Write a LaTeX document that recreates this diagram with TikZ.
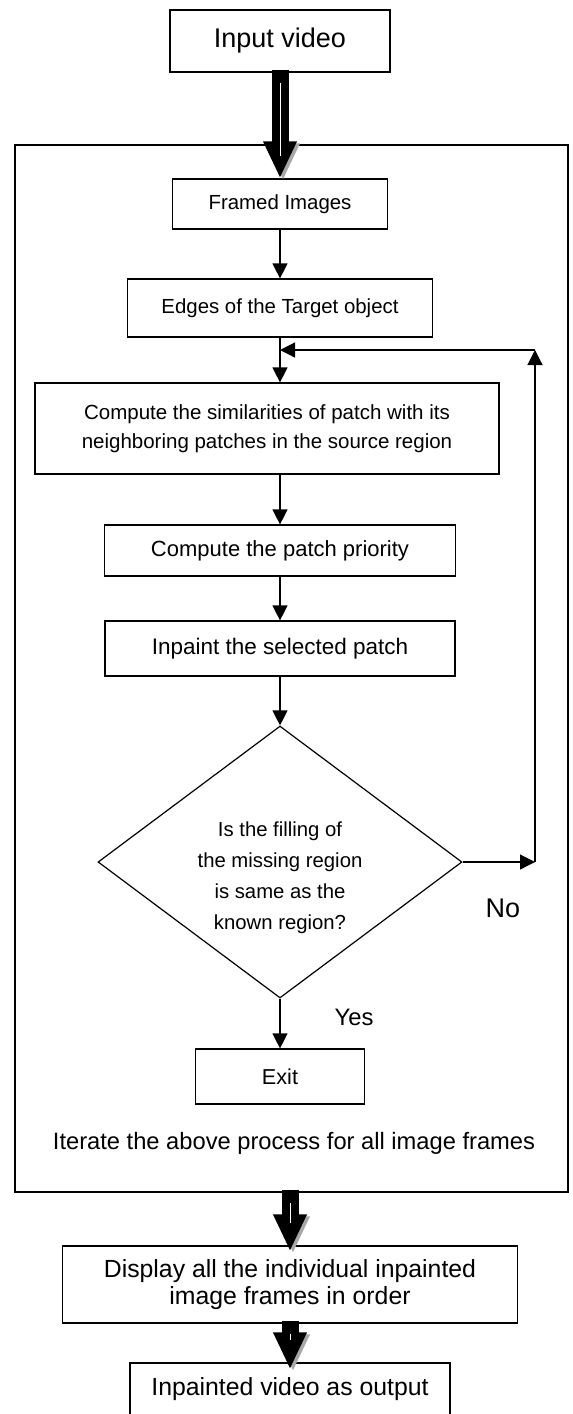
\documentclass[tikz,border=0pt]{standalone}
\usepackage{fontspec}
\setmainfont{Liberation Sans}
\usepackage{tikz}
\usetikzlibrary{calc,arrows.meta,shapes.geometric,positioning}
\definecolor{ink}{HTML}{000000}
\definecolor{paper}{HTML}{FFFFFF}
\definecolor{shade}{HTML}{A8A8A8}
\tikzset{
  stepbox/.style={rectangle, draw=ink, line width=1.2pt, inner sep=0pt, align=center, text=ink},
  outer/.style={rectangle, draw=ink, line width=1.3pt, inner sep=0pt},
  test/.style={diamond, draw=ink, line width=1.2pt, inner sep=0pt},
  lab/.style 2 args={text=ink, font=\fontsize{#1}{#2}\selectfont},
  flow/.style={draw=ink, line width=1.2pt, -{Triangle[width=15pt,length=15pt]}},
  big/.style={draw=ink, line width=17pt, -{Triangle[width=31pt,length=37pt]}, shorten <=-3pt,
    preaction={draw=shade, transform canvas={shift={(3pt,-2pt)}}},
    postaction={draw=paper, line width=0.7pt, -, shorten <=10pt, shorten >=22pt}},
}

\begin{document}
\begin{tikzpicture}[x=1pt,y=-1pt]
\useasboundingbox (0,0) rectangle (573,1414);
\fill[paper] (0,0) rectangle (573,1414);

% the loop that runs once per frame
\node[outer, minimum width=553pt, minimum height=1047pt] (frame) at (291.5,668.5) {};

\node[stepbox, lab={27}{32}, minimum width=220pt, minimum height=62pt] (inp) at (280,41) {Input video};
\node[stepbox, lab={20.4}{24}, minimum width=215pt, minimum height=50pt] (frm) at (280,204) {Framed Images};
\node[stepbox, lab={20.4}{24}, minimum width=305pt, minimum height=58pt] (edg) at (280,308) {Edges of the Target object};
\node[stepbox, lab={20.5}{29}, minimum width=464pt, minimum height=91pt] (sim) at (267,428.5)
  {Compute the similarities of patch with its\\neighboring patches in the source region};
\node[stepbox, lab={22}{26}, minimum width=351pt, minimum height=51pt] (pri) at (280,550.5) {Compute the patch priority};
\node[stepbox, lab={22.5}{26}, minimum width=350pt, minimum height=55pt] (pnt) at (280,648.5) {Inpaint the selected patch};
\node[test, minimum width=364pt, minimum height=272pt] (dec) at (280,862) {};
\node[lab={20.3}{31}, align=center] (qtxt) at ($(dec.center)+(0,16)$)
  {Is the filling of\\the missing region\\is same as the\\known region?};
\node[stepbox, lab={21.6}{26}, minimum width=169pt, minimum height=55pt] (ext) at (280,1076.5) {Exit};
\node[lab={23.7}{28}] (itr) at (294,1143) {Iterate the above process for all image frames};
\node[lab={23.8}{28}] (yes) at (354,1017) {Yes};
\node[lab={27}{32}] (no) at (503,908) {No};

% after the loop
\node[stepbox, lab={24.8}{27}, minimum width=455pt, minimum height=77pt] (dsp) at (290,1284.5)
  {Display all the individual inpainted\\image frames in order};
\node[stepbox, lab={24.8}{28}, minimum width=320pt, minimum height=53pt] (out) at (290,1389.5) {Inpainted video as output};

% return path of the loop
\coordinate (bend) at (535,862);
\coordinate (back) at (535,350);
\coordinate (join) at (280,350);

\draw[flow] (frm.south) -- (edg.north);
\draw[flow] (edg.south) -- (edg.south |- sim.north);
\draw[flow] (sim.south -| pri.north) -- (pri.north);
\draw[flow] (pri.south) -- (pnt.north);
\draw[flow] (pnt.south) -- (dec.north);
\draw[flow] (dec.south) -- (ext.north);
\draw[flow] (dec.east) -- (bend);
\draw[flow] (bend) -- (back);
\draw[flow] (back) -- (join);

% block arrows
\draw[big] (inp.south) -- (frm.north);
\draw[big, shorten >=-6pt] (frame.south -| dsp.north) -- (dsp.north);
\draw[big, shorten >=-7pt] (dsp.south) -- (out.north);
\end{tikzpicture}
\end{document}
